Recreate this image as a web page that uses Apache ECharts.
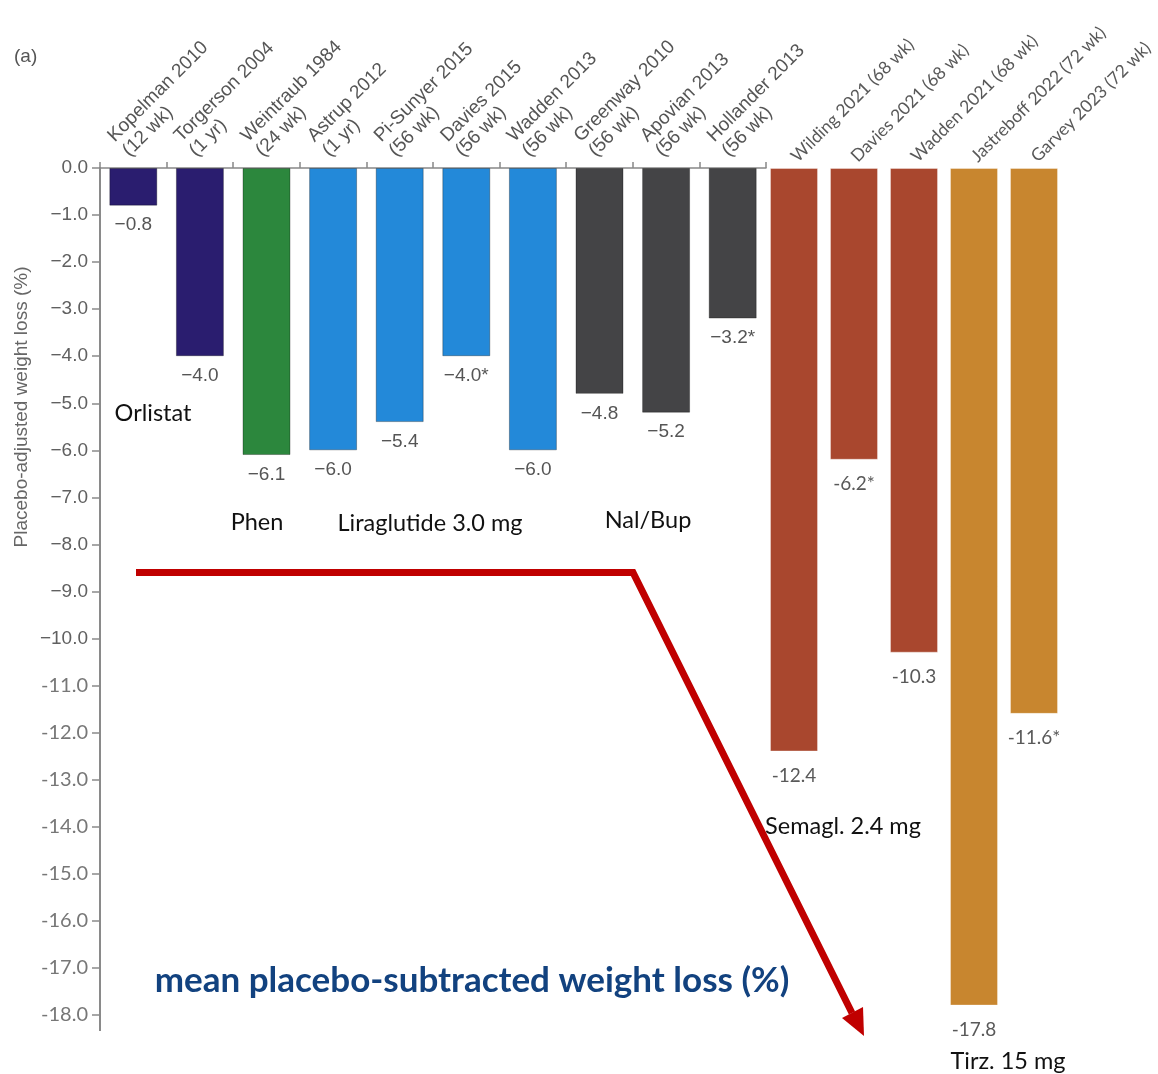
<!DOCTYPE html>
<html>
<head>
<meta charset="utf-8">
<script src="https://cdn.jsdelivr.net/npm/echarts@6/dist/echarts.min.js"></script>
<style>
html,body{margin:0;padding:0;background:#fff;}
#chart{width:1158px;height:1074px;}
</style>
</head>
<body>
<div id="chart"></div>
<script>
// ---- data ----
const catsA = ['Kopelman 2010\n(12 wk)', 'Torgerson 2004\n(1 yr)', 'Weintraub 1984\n(24 wk)', 'Astrup 2012\n(1 yr)', 'Pi-Sunyer 2015\n(56 wk)', 'Davies 2015\n(56 wk)', 'Wadden 2013\n(56 wk)', 'Greenway 2010\n(56 wk)', 'Apovian 2013\n(56 wk)', 'Hollander 2013\n(56 wk)'];
const valsA = [-0.8, -4.0, -6.1, -6.0, -5.4, -4.0, -6.0, -4.8, -5.2, -3.2];
const starA = [false, false, false, false, false, true, false, false, false, true];
const drugA = ['orl', 'orl', 'phen', 'lira', 'lira', 'lira', 'lira', 'nb', 'nb', 'nb'];

const catsB = ['Wilding 2021 (68 wk)', 'Davies 2021 (68 wk)', 'Wadden 2021 (68 wk)', 'Jastreboff 2022 (72 wk)', 'Garvey 2023 (72 wk)'];
const valsB = [-12.4, -6.2, -10.3, -17.8, -11.6];
const starB = [false, true, false, false, true];
const drugB = ['sema', 'sema', 'sema', 'tirz', 'tirz'];

const yMin = -18, yMax = 0, yStep = 1;

const drugColors = {orl: '#2a1d6f', phen: '#2c873d', lira: '#2389d9', nb: '#444446', sema: '#a9472e', tirz: '#c8862f'};

const chart = echarts.init(document.getElementById('chart'));

const fmtA = v => '\u2212' + Math.abs(v).toFixed(1);
const fmtB = v => '-' + Math.abs(v).toFixed(1);

const option = {
  backgroundColor: '#fff',
  animation: false,
  grid: [
    {left: 100, top: 168, width: 666, height: 847, containLabel: false, outerBoundsMode: 'none'},
    {left: 764, top: 168, width: 300, height: 847, containLabel: false, outerBoundsMode: 'none'}
  ],
  xAxis: [
    {
      type: 'category', gridIndex: 0, position: 'top', data: catsA,
      axisLine: {show: true, lineStyle: {color: '#888', width: 1.5}},
      axisTick: {show: true, length: 6, lineStyle: {color: '#888', width: 1.5}},
      axisLabel: {interval: 0, rotate: 45, margin: 7, verticalAlign: 'bottom', fontFamily: 'Liberation Sans, Arial', fontSize: 19, lineHeight: 21, color: '#555'}
    },
    {
      type: 'category', gridIndex: 1, position: 'top', data: catsB,
      axisLine: {show: false}, axisTick: {show: false},
      axisLabel: {interval: 0, rotate: 45, margin: 9, fontFamily: 'Lato', fontSize: 17.5, color: '#595959'}
    }
  ],
  yAxis: [
    {
      type: 'value', gridIndex: 0, min: yMin, max: yMax, interval: yStep,
      axisLine: {show: true, lineStyle: {color: '#8a8a8a', width: 2}},
      axisTick: {show: true, length: 8, lineStyle: {color: '#8a8a8a', width: 1.5}},
      splitLine: {show: false},
      axisLabel: {
        margin: 12,
        formatter: v => (v >= -10 ? '{a|' + (v === 0 ? '0.0' : fmtA(v)) + '}' : '{b|' + fmtB(v) + '}'),
        rich: {
          a: {fontFamily: 'Liberation Sans, Arial', fontSize: 19, color: '#606060'},
          b: {fontFamily: 'Lato', fontSize: 20, color: '#777'}
        }
      }
    },
    {type: 'value', gridIndex: 1, min: yMin, max: yMax, interval: yStep, show: false, splitLine: {show: false}}
  ],
  series: [
    {
      type: 'bar', xAxisIndex: 0, yAxisIndex: 0, barWidth: 48,
      data: valsA.map((v, i) => ({value: v, itemStyle: {color: drugColors[drugA[i]], borderColor: 'rgba(0,0,0,0.3)', borderWidth: 1}})),
      label: {
        show: true, position: 'outside', distance: 10,
        fontFamily: 'Liberation Sans, Arial', fontSize: 19, color: '#555',
        formatter: p => fmtA(valsA[p.dataIndex]) + (starA[p.dataIndex] ? '*' : '')
      }
    },
    {
      type: 'bar', xAxisIndex: 1, yAxisIndex: 1, barWidth: 48,
      data: valsB.map((v, i) => ({value: v, itemStyle: {color: drugColors[drugB[i]], borderColor: 'rgba(255,255,255,0.35)', borderWidth: 1}})),
      label: {
        show: true, position: 'outside', distance: 15,
        fontFamily: 'Lato', fontSize: 19, color: '#595959',
        formatter: p => fmtB(valsB[p.dataIndex]) + (starB[p.dataIndex] ? '*' : '')
      }
    }
  ],
  graphic: [
    {type: 'text', left: 14, top: 47, style: {text: '(a)', font: '19px "Liberation Sans", Arial', fill: '#555'}},
    {type: 'text', x: 22, y: 407, rotation: Math.PI / 2, style: {text: 'Placebo-adjusted weight loss (%)', font: '19px "Liberation Sans", Arial', fill: '#666', textAlign: 'center', textVerticalAlign: 'middle'}},
    {type: 'text', x: 153, y: 413, style: {text: 'Orlistat', font: '23.5px Lato', fill: '#111', textAlign: 'center', textVerticalAlign: 'middle'}},
    {type: 'text', x: 257, y: 522, style: {text: 'Phen', font: '23.5px Lato', fill: '#111', textAlign: 'center', textVerticalAlign: 'middle'}},
    {type: 'text', x: 430, y: 523, style: {text: 'Liraglutide 3.0 mg', font: '23.5px Lato', fill: '#111', textAlign: 'center', textVerticalAlign: 'middle'}},
    {type: 'text', x: 648, y: 520, style: {text: 'Nal/Bup', font: '23.5px Lato', fill: '#111', textAlign: 'center', textVerticalAlign: 'middle'}},
    {type: 'text', x: 843, y: 826, style: {text: 'Semagl. 2.4 mg', font: '23.5px Lato', fill: '#111', textAlign: 'center', textVerticalAlign: 'middle'}},
    {type: 'text', x: 1008, y: 1061, style: {text: 'Tirz. 15 mg', font: '23.5px Lato', fill: '#111', textAlign: 'center', textVerticalAlign: 'middle'}},
    {type: 'text', x: 472, y: 981, style: {text: 'mean placebo-subtracted weight loss (%)', font: 'bold 35px Lato', fill: '#12427f', textAlign: 'center', textVerticalAlign: 'middle'}},
    {type: 'line', shape: {x1: 100, y1: 1014, x2: 100, y2: 1031}, style: {stroke: '#8a8a8a', lineWidth: 2}},
    {type: 'polyline', shape: {points: [[136, 572.5], [633, 572.5], [852, 1013]]}, style: {stroke: '#c00000', lineWidth: 7, lineJoin: 'miter', fill: null}, z: 10},
    {type: 'polygon', shape: {points: [[864, 1036], [863, 1007], [842, 1018]]}, style: {fill: '#c00000'}, z: 10}
  ]
};
chart.setOption(option);
</script>
</body>
</html>
